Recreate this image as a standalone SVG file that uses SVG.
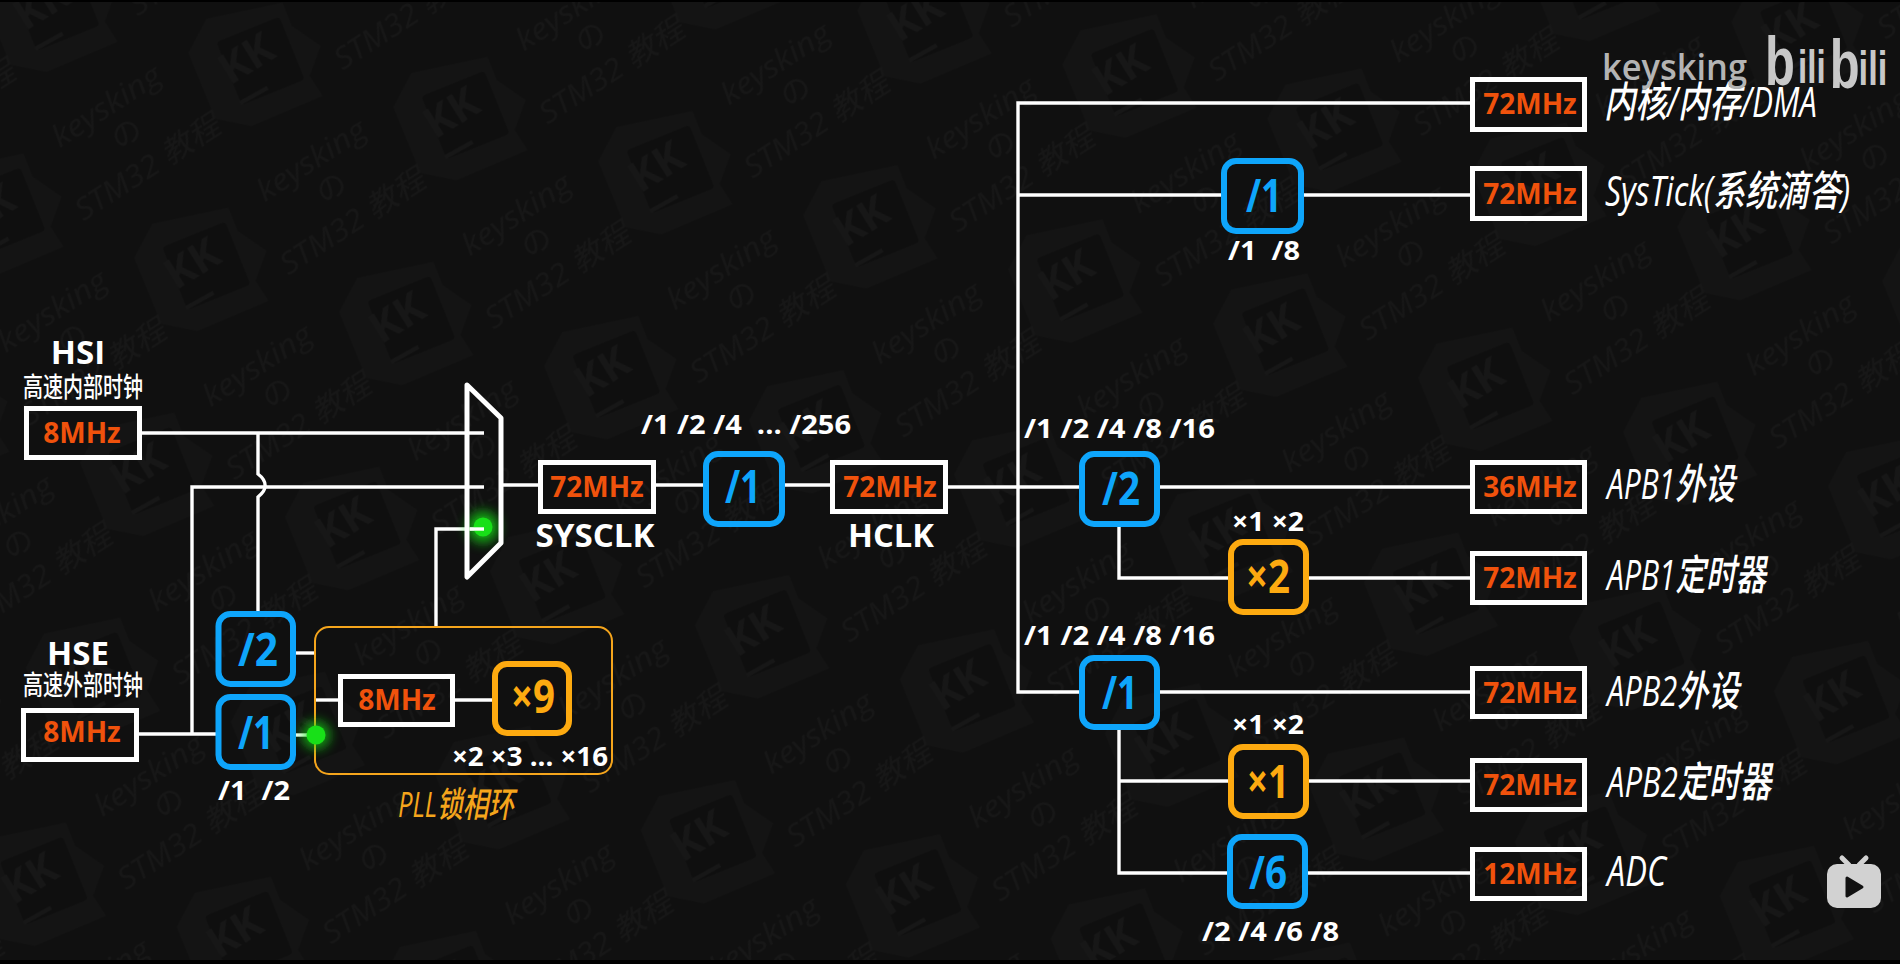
<svg xmlns="http://www.w3.org/2000/svg" width="1900" height="964" viewBox="0 0 1900 964">
<style>
text{font-family:"Open Sans","Noto Sans CJK SC",sans-serif;}
.box{fill:none;stroke:#fff;stroke-width:5;}
.blue{fill:none;stroke:#0ea5fb;stroke-width:6;}
.org{fill:none;stroke:#fdaa10;stroke-width:6;}
.mhz{font-size:28px;font-weight:700;fill:#f0520c;text-anchor:middle;}
.bt{font-size:46px;font-weight:700;fill:#0ea5fb;text-anchor:middle;}
.ot{font-size:46px;font-weight:700;fill:#fdaa10;text-anchor:middle;}
.opt{font-size:27px;font-weight:700;fill:#fff;white-space:pre;}
.name{font-size:33px;font-weight:700;fill:#fff;text-anchor:middle;}
.cn{font-size:27px;font-weight:500;fill:#fff;}
.lab{font-size:42px;font-weight:500;font-style:italic;fill:#fff;}
.wire{fill:none;stroke:#fff;stroke-width:3.4;}
.wm{fill:#171717;text-anchor:middle;}
</style>
<defs>
<g id="cell">
<g transform="rotate(-14.8)">
<polygon points="-72,-8 -54,-42 22,-58 31,-35 60,-15 49,15 62,35 -9,65 -45,58" fill="#141414"/>
<rect x="-34" y="-34" width="68" height="68" rx="4" fill="#0f0f0f" transform="rotate(-22)"/>
<text transform="translate(-14 -2) rotate(-32)" y="14" font-size="42" font-weight="700" class="wm">KK</text>
<line x1="-20" y1="42" x2="7" y2="27" stroke="#171717" stroke-width="4"/>
<text transform="translate(-153 47) rotate(-33)" y="8" font-size="30" font-style="italic" class="wm" textLength="124" lengthAdjust="spacingAndGlyphs">keysking</text>
<text transform="translate(-134 73) rotate(-33)" y="10" font-size="30" class="wm">の</text>
<text transform="translate(-113 107) rotate(-33)" y="10" font-size="30" font-style="italic" class="wm" textLength="166" lengthAdjust="spacingAndGlyphs">STM32 教程</text>
</g>
</g>
<pattern id="wmark" patternUnits="userSpaceOnUse" width="212" height="212" patternTransform="translate(465.5 115) rotate(14.8)">
<use href="#cell"/>
<use href="#cell" x="212"/>
<use href="#cell" y="212"/>
<use href="#cell" x="212" y="212"/>
</pattern>
<filter id="glow" x="-100%" y="-100%" width="300%" height="300%"><feGaussianBlur stdDeviation="6"/></filter>
</defs>

<rect width="1900" height="964" fill="#000"/>
<rect y="2" width="1900" height="958" fill="#101010"/>
<rect y="2" width="1900" height="958" fill="url(#wmark)"/>

<g id="connectors">
<path class="wire" d="M142 433H484"/>
<path class="wire" d="M258 433V474Q266 480 265 487Q265 491 258 497V611"/>
<path class="wire" d="M484 487H192V734"/>
<path class="wire" d="M139 734H216"/>
<path class="wire" d="M296 653H315"/>
<path class="wire" d="M296 735H316"/>
<path class="wire" d="M315 700H338"/>
<path class="wire" d="M455 700H492"/>
<path class="wire" d="M436 626V529H484"/>
<path class="wire" d="M501 485H538"/>
<path class="wire" d="M656 485H703"/>
<path class="wire" d="M785 485H830"/>
<path class="wire" d="M948 487H1079"/>
<path class="wire" d="M1470 103H1018V692H1079"/>
<path class="wire" d="M1018 195H1221"/>
<path class="wire" d="M1304 195H1470"/>
<path class="wire" d="M1160 487H1470"/>
<path class="wire" d="M1119 527V578H1228"/>
<path class="wire" d="M1309 578H1470"/>
<path class="wire" d="M1160 692H1470"/>
<path class="wire" d="M1119 730V873H1227"/>
<path class="wire" d="M1119 781H1228"/>
<path class="wire" d="M1309 781H1470"/>
<path class="wire" d="M1308 873H1470"/>
</g>

<g id="hsi">
<text class="name" x="78" y="364">HSI</text>
<text class="cn" x="23" y="397" textLength="120" lengthAdjust="spacingAndGlyphs">高速内部时钟</text>
<rect class="box" x="26.5" y="408.5" width="113" height="49"/>
<text class="mhz" x="82" y="443">8MHz</text>
</g>
<g id="hse">
<text class="name" x="78" y="665">HSE</text>
<text class="cn" x="23" y="695" textLength="120" lengthAdjust="spacingAndGlyphs">高速外部时钟</text>
<rect class="box" x="23.5" y="710.5" width="113" height="49"/>
<text class="mhz" x="82" y="742">8MHz</text>
</g>
<g id="div-hse-2">
<rect class="blue" x="218.5" y="614" width="74.5" height="70" rx="12"/>
<text class="bt" x="258" y="666" textLength="40" lengthAdjust="spacingAndGlyphs">/2</text>
</g>
<g id="div-hse-1">
<rect class="blue" x="218.5" y="697" width="74.5" height="70" rx="12"/>
<text class="bt" x="256" y="749" textLength="36" lengthAdjust="spacingAndGlyphs">/1</text>
<text class="opt" x="218" y="800" textLength="72" lengthAdjust="spacingAndGlyphs">/1  /2</text>
</g>
<g id="pll">
<rect x="315" y="627" width="297" height="147" rx="14" fill="none" stroke="#f5a51c" stroke-width="2"/>
<rect class="box" x="340.5" y="676.5" width="112" height="48"/>
<text class="mhz" x="397" y="710">8MHz</text>
<rect class="org" x="495" y="664" width="74" height="69" rx="12"/>
<text class="ot" x="533" y="713" textLength="44" lengthAdjust="spacingAndGlyphs">×9</text>
<text class="opt" x="452" y="766" textLength="156" lengthAdjust="spacingAndGlyphs">×2 ×3 ... ×16</text>
<text x="398" y="817" font-size="35" font-weight="500" font-style="italic" fill="#f5a51c" textLength="116" lengthAdjust="spacingAndGlyphs">PLL锁相环</text>
</g>
<g id="pll-dot">
<circle cx="316" cy="735" r="14" fill="#18e018" opacity=".7" filter="url(#glow)"/>
<circle cx="316" cy="735" r="9.5" fill="#18e018"/>
</g>
<g id="mux">
<circle cx="483" cy="527" r="16" fill="#18e018" opacity=".75" filter="url(#glow)"/>
<path d="M467 385L501 418V543L467 577Z" fill="none" stroke="#fff" stroke-width="5" stroke-linejoin="round"/>
<circle cx="483" cy="527" r="9.5" fill="#18e018"/>
<path class="wire" d="M470 529H484"/>
</g>
<g id="sysclk">
<rect class="box" x="540.5" y="462.5" width="113" height="49"/>
<text class="mhz" x="597" y="497">72MHz</text>
<text class="name" x="595" y="547" textLength="119" lengthAdjust="spacingAndGlyphs">SYSCLK</text>
</g>
<g id="ahb-div">
<text class="opt" x="641" y="434" textLength="210" lengthAdjust="spacingAndGlyphs">/1 /2 /4  ... /256</text>
<rect class="blue" x="706" y="454" width="76" height="70" rx="12"/>
<text class="bt" x="743" y="503" textLength="36" lengthAdjust="spacingAndGlyphs">/1</text>
</g>
<g id="hclk">
<rect class="box" x="832.5" y="462.5" width="113" height="49"/>
<text class="mhz" x="890" y="497">72MHz</text>
<text class="name" x="891" y="547" textLength="86" lengthAdjust="spacingAndGlyphs">HCLK</text>
</g>
<g id="core">
<rect class="box" x="1472.5" y="79.5" width="112" height="50"/>
<text class="mhz" x="1530" y="114">72MHz</text>
<text class="lab" x="1604" y="117" textLength="213" lengthAdjust="spacingAndGlyphs">内核/内存/DMA</text>
</g>
<g id="systick">
<rect class="blue" x="1224" y="161" width="77" height="70" rx="12"/>
<text class="bt" x="1264" y="212" textLength="36" lengthAdjust="spacingAndGlyphs">/1</text>
<text class="opt" x="1228" y="260" textLength="72" lengthAdjust="spacingAndGlyphs">/1  /8</text>
<rect class="box" x="1472.5" y="168.5" width="112" height="50"/>
<text class="mhz" x="1530" y="204">72MHz</text>
<text class="lab" x="1605" y="206" textLength="245" lengthAdjust="spacingAndGlyphs">SysTick(系统滴答)</text>
</g>
<g id="apb1">
<text class="opt" x="1024" y="438" textLength="191" lengthAdjust="spacingAndGlyphs">/1 /2 /4 /8 /16</text>
<rect class="blue" x="1082" y="454" width="75" height="70" rx="12"/>
<text class="bt" x="1121" y="505" textLength="38" lengthAdjust="spacingAndGlyphs">/2</text>
<rect class="box" x="1472.5" y="462.5" width="112" height="49"/>
<text class="mhz" x="1530" y="497">36MHz</text>
<text class="lab" x="1607" y="499" textLength="128" lengthAdjust="spacingAndGlyphs">APB1外设</text>
</g>
<g id="apb1-timer">
<text class="opt" x="1232" y="531" textLength="72" lengthAdjust="spacingAndGlyphs">×1 ×2</text>
<rect class="org" x="1231" y="542" width="75" height="70" rx="12"/>
<text class="ot" x="1268" y="593" textLength="44" lengthAdjust="spacingAndGlyphs">×2</text>
<rect class="box" x="1472.5" y="553.5" width="112" height="49"/>
<text class="mhz" x="1530" y="588">72MHz</text>
<text class="lab" x="1607" y="590" textLength="159" lengthAdjust="spacingAndGlyphs">APB1定时器</text>
</g>
<g id="apb2">
<text class="opt" x="1024" y="645" textLength="191" lengthAdjust="spacingAndGlyphs">/1 /2 /4 /8 /16</text>
<rect class="blue" x="1082" y="658" width="75" height="69" rx="12"/>
<text class="bt" x="1120" y="709" textLength="36" lengthAdjust="spacingAndGlyphs">/1</text>
<rect class="box" x="1472.5" y="668.5" width="112" height="48"/>
<text class="mhz" x="1530" y="703">72MHz</text>
<text class="lab" x="1607" y="706" textLength="132" lengthAdjust="spacingAndGlyphs">APB2外设</text>
</g>
<g id="apb2-timer">
<text class="opt" x="1232" y="734" textLength="72" lengthAdjust="spacingAndGlyphs">×1 ×2</text>
<rect class="org" x="1231" y="747" width="75" height="69" rx="12"/>
<text class="ot" x="1268" y="798" textLength="42" lengthAdjust="spacingAndGlyphs">×1</text>
<rect class="box" x="1472.5" y="760.5" width="112" height="49"/>
<text class="mhz" x="1530" y="795">72MHz</text>
<text class="lab" x="1607" y="797" textLength="164" lengthAdjust="spacingAndGlyphs">APB2定时器</text>
</g>
<g id="adc">
<rect class="blue" x="1230" y="837" width="75" height="69" rx="12"/>
<text class="bt" x="1268" y="889" textLength="38" lengthAdjust="spacingAndGlyphs">/6</text>
<text class="opt" x="1202" y="941" textLength="137" lengthAdjust="spacingAndGlyphs">/2 /4 /6 /8</text>
<rect class="box" x="1472.5" y="849.5" width="112" height="49"/>
<text class="mhz" x="1530" y="884">12MHz</text>
<text class="lab" x="1607" y="886" textLength="59" lengthAdjust="spacingAndGlyphs">ADC</text>
</g>
<g id="brand">
<text x="1602" y="80" font-size="36" font-weight="600" fill="#b4b4b4" textLength="145" lengthAdjust="spacingAndGlyphs">keysking</text>
<text transform="translate(1765 0) scale(.72 1)" style="font-family:'Liberation Sans',sans-serif" font-weight="700" fill="#c8c8c8"><tspan x="0" y="85" font-size="68">b</tspan><tspan x="46" y="83" font-size="46">ili</tspan><tspan x="90" y="88" font-size="68">b</tspan><tspan x="130" y="85" font-size="48">ili</tspan></text>
<path d="M1842 858L1849 865M1866 858L1859 865" stroke="#d2d2d2" stroke-width="5" stroke-linecap="round"/>
<rect x="1827" y="864" width="54" height="44" rx="10" fill="#d2d2d2"/>
<path d="M1847 878L1862 887L1847 896Z" fill="#111" stroke="#111" stroke-width="3" stroke-linejoin="round"/>
</g>
</svg>
